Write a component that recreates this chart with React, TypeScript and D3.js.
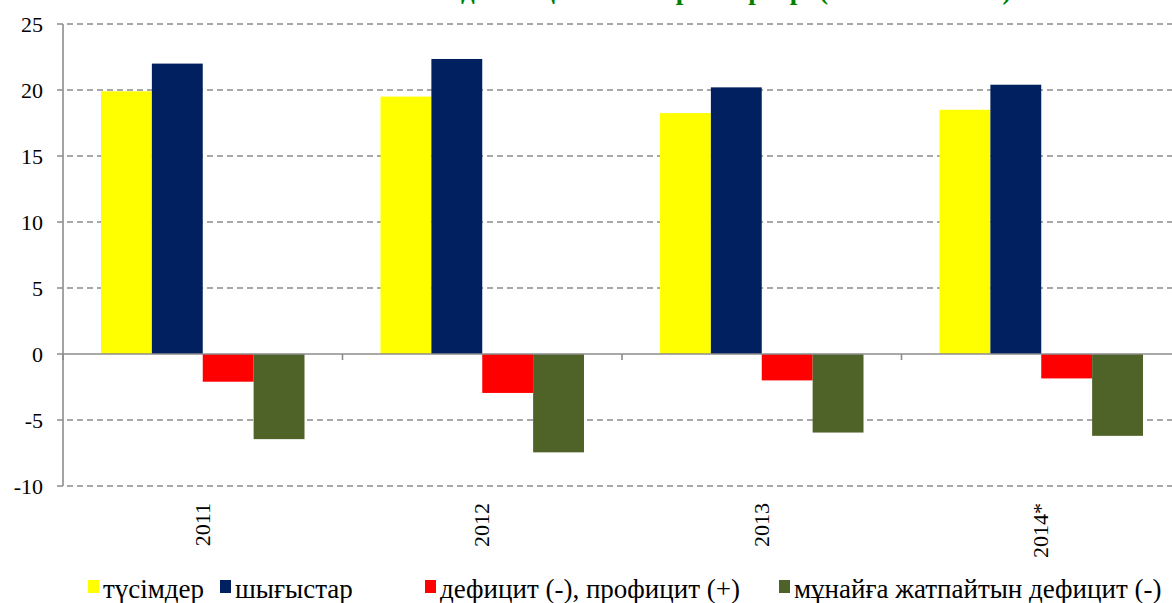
import * as d3 from "d3";

// categories and series (percent of GDP)
const years = ["2011", "2012", "2013", "2014*"];
const seriesNames = [
  "түсімдер",
  "шығыстар",
  "дефицит (-), профицит (+)",
  "мұнайға жатпайтын дефицит (-)",
];
const revenues = [19.9, 19.5, 18.25, 18.5];
const expenses = [22.0, 22.35, 20.2, 20.4];
const balance = [-2.1, -2.95, -2.0, -1.85];
const nonOilDeficit = [-6.45, -7.45, -5.95, -6.2];
const yTicks = [-10, -5, 0, 5, 10, 15, 20, 25];
const title = "Мемлекеттік бюджеттің негізгі параметрлері (ЖІӨ-ге %-бен)";

const colors = ["#ffff00", "#002060", "#ff0000", "#4f6228"];
const W = 1172;
const H = 603;
const font = { fontFamily: "'Liberation Serif'" };
const GRID = "#8c8c8c";

export default function App() {
  const left = 63;
  const top = 24;
  const bottom = 486;
  const catW = 279.5;
  const x = d3
    .scaleBand<string>()
    .domain(years)
    .range([left, left + catW * years.length]);
  const y = d3.scaleLinear().domain([-10, 25]).range([bottom, top]);
  const series = [revenues, expenses, balance, nonOilDeficit];
  // bars fill the middle ~73% of each category
  const gap = 38;
  const xs = d3
    .scaleBand<number>()
    .domain(d3.range(series.length))
    .range([gap, x.bandwidth() - gap]);
  const legendX = [88, 220, 425, 779];

  return (
    <svg
      width={W}
      height={H}
      style={{ position: "absolute", left: 0, top: 0, background: "#fff" }}
    >
      {/* title, cut off at the top as in the source */}
      <text
        x={637}
        y={-1}
        textAnchor="middle"
        fontWeight="bold"
        fontSize={27}
        fill="#008000"
        style={font}
      >
        {title}
      </text>

      {yTicks
        .filter((t) => t !== 0)
        .map((t) => (
          <line
            key={t}
            x1={left - 6}
            x2={W}
            y1={y(t)}
            y2={y(t)}
            stroke={GRID}
            strokeWidth={1.6}
            strokeDasharray="6,4"
          />
        ))}

      {series.map((vals, si) =>
        vals.map((v, i) => (
          <rect
            key={`${si}-${i}`}
            x={(x(years[i]) as number) + (xs(si) as number)}
            width={xs.bandwidth()}
            y={y(Math.max(0, v))}
            height={Math.abs(y(v) - y(0))}
            fill={colors[si]}
          />
        ))
      )}

      <line x1={left - 6} x2={W} y1={y(0)} y2={y(0)} stroke={GRID} strokeWidth={1.6} />
      <line x1={left} x2={left} y1={top} y2={bottom} stroke={GRID} strokeWidth={1.6} />
      {d3.range(years.length + 1).map((k) => (
        <line
          key={k}
          x1={left + k * catW}
          x2={left + k * catW}
          y1={y(0)}
          y2={y(0) + 6}
          stroke={GRID}
          strokeWidth={1.6}
        />
      ))}

      {yTicks.map((t) => (
        <text key={t} x={43} y={y(t) + 7.5} textAnchor="end" fontSize={22} style={font}>
          {t}
        </text>
      ))}

      {years.map((yr) => (
        <text
          key={yr}
          transform={`translate(${(x(yr) as number) + x.bandwidth() / 2 + 7},503) rotate(-90)`}
          textAnchor="end"
          fontSize={22}
          style={font}
        >
          {yr}
        </text>
      ))}

      {seriesNames.map((name, i) => (
        <g key={name} transform={`translate(${legendX[i]},0)`}>
          <rect x={0} y={580} width={11} height={13} fill={colors[i]} />
          <text x={15} y={598} fontSize={27} style={font}>
            {name}
          </text>
        </g>
      ))}
    </svg>
  );
}
